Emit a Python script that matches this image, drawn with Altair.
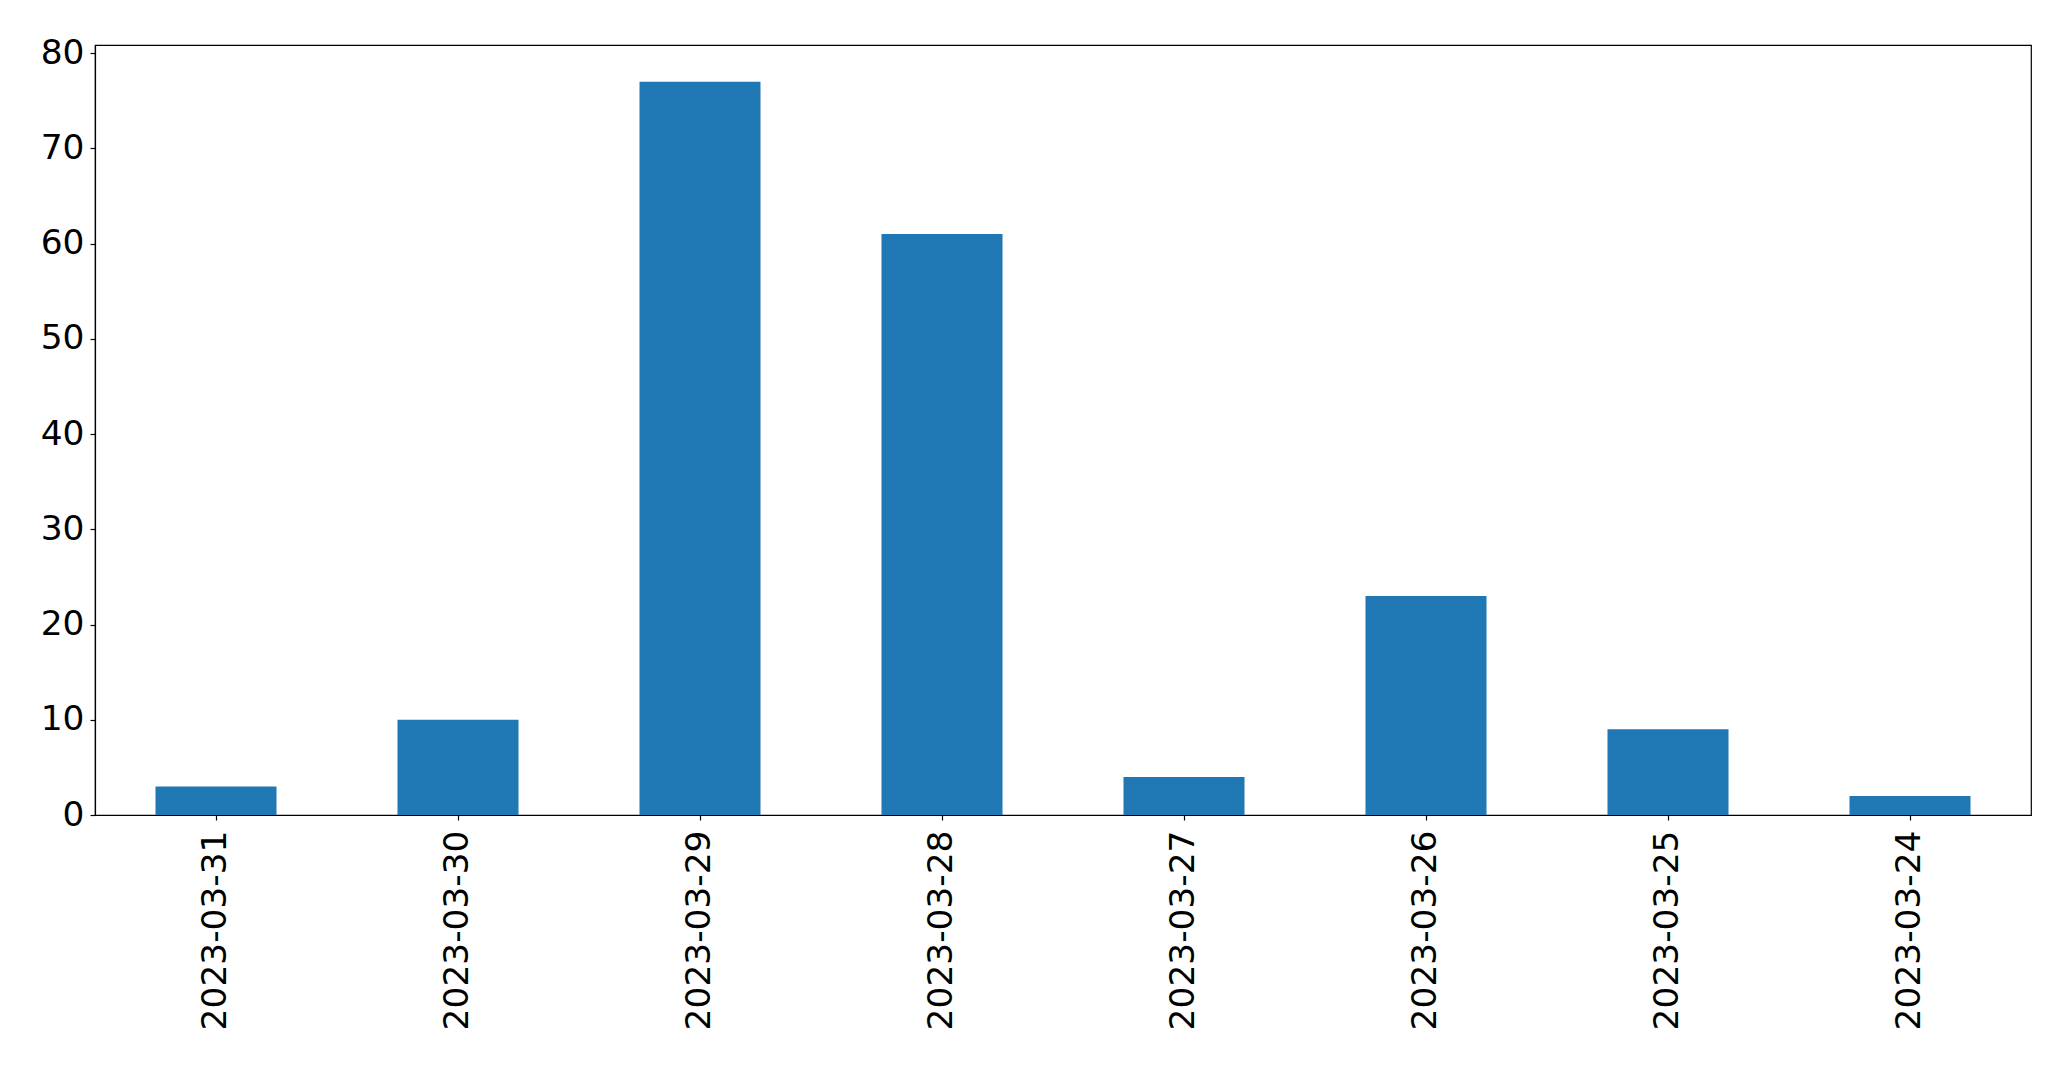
import altair as alt
import pandas as pd

dates = ["2023-03-31", "2023-03-30", "2023-03-29", "2023-03-28",
         "2023-03-27", "2023-03-26", "2023-03-25", "2023-03-24"]
counts = [3, 10, 77, 61, 4, 23, 9, 2]

df = pd.DataFrame({"date": dates, "count": counts})

FONT = "DejaVu Sans"
FS = 34.4

chart = alt.Chart(df).mark_bar(color="#1f77b4").encode(
    x=alt.X("date:N", sort=dates, title=None,
            scale=alt.Scale(paddingInner=0.5, paddingOuter=0.25),
            axis=alt.Axis(labelAngle=270, labelAlign="right", labelBaseline="middle",
                          labelFont=FONT, labelFontSize=FS, labelColor="black",
                          labelLimit=0, labelPadding=10, tickSize=5, tickColor="black",
                          domainColor="black", domainWidth=1.2, tickWidth=1.2)),
    y=alt.Y("count:Q", title=None,
            scale=alt.Scale(domain=[0, 80.85], nice=False, zero=True),
            axis=alt.Axis(values=[0, 10, 20, 30, 40, 50, 60, 70, 80], grid=False,
                          labelFont=FONT, labelFontSize=FS, labelColor="black",
                          labelPadding=6, tickSize=5, tickColor="black",
                          domainColor="black", domainWidth=1.2, tickWidth=1.2)),
).properties(
    width=1936, height=770,
    autosize=alt.AutoSizeParams(type="none"),
    padding={"left": 87, "top": 37, "right": 30, "bottom": 220},
).configure_view(stroke="black", strokeWidth=1.2)

chart.save("out.html", embed_options={"renderer": "svg", "actions": False})
